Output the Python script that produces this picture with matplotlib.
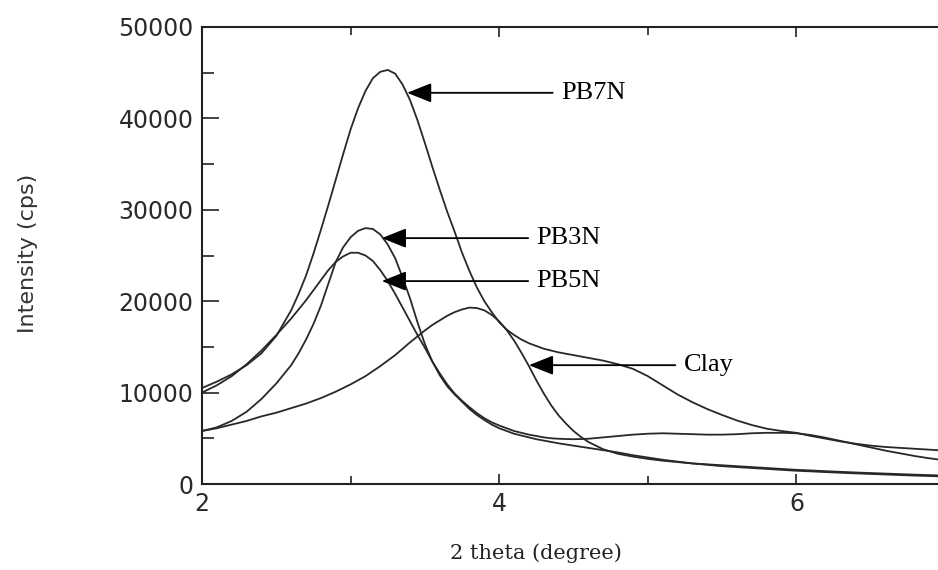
import matplotlib
matplotlib.use("Agg")
import matplotlib.pyplot as plt
from matplotlib.ticker import MultipleLocator

# 2 theta grid (degree), denser around the peaks
theta = [2.0, 2.1, 2.2, 2.3, 2.4, 2.5,
         2.6, 2.65, 2.7, 2.75, 2.8, 2.85, 2.9, 2.95,
         3.0, 3.05, 3.1, 3.15, 3.2, 3.25, 3.3, 3.35, 3.4, 3.45,
         3.5, 3.55, 3.6, 3.65, 3.7, 3.75, 3.8, 3.85, 3.9, 3.95,
         4.0, 4.05, 4.1, 4.15, 4.2, 4.25, 4.3, 4.35, 4.4, 4.45,
         4.5, 4.55, 4.6,
         4.7, 4.8, 4.9, 5.0, 5.1, 5.2, 5.3, 5.4, 5.5, 5.6, 5.7, 5.8, 5.9,
         6.0, 6.1, 6.2, 6.3, 6.4, 6.5, 6.6, 6.7, 6.8, 6.9, 7.0]

# intensity (cps)
pb7n = [10500, 11200, 12000, 13000, 14300, 16200,
        19000, 20800, 22800, 25200, 27800, 30500, 33300, 36100,
        38800, 41100, 43000, 44400, 45100, 45300, 44900, 43700, 42000, 39800,
        37300, 34700, 32200, 29800, 27600, 25300, 23300, 21500, 20000, 18800,
        17700, 16900, 16300, 15800, 15400, 15100, 14800, 14600, 14400, 14250,
        14100, 13950, 13800,
        13500, 13100, 12600, 11800, 10800, 9800, 8950, 8200, 7550, 6950, 6450, 6050, 5800,
        5600, 5250, 4950, 4650, 4400, 4200, 4050, 3950, 3850, 3750, 3650]

pb3n = [5800, 6200, 6900, 7900, 9300, 11000,
        13000, 14300, 15800, 17500, 19500, 21900, 24300, 25900,
        27000, 27700, 28000, 27900, 27300, 26200, 24700, 22600, 20300, 17700,
        15300, 13400, 11900, 10700, 9800, 9000, 8200, 7550, 7000, 6500,
        6100, 5800, 5500, 5300, 5100, 4900, 4750, 4600, 4450, 4320,
        4200, 4070, 3950,
        3700, 3450, 3150, 2900, 2650, 2450, 2250, 2100, 1950, 1850, 1750, 1650, 1550,
        1450, 1380, 1300, 1230, 1160, 1100, 1040, 980, 920, 870, 820]

pb5n = [10000, 10800, 11800, 13100, 14600, 16300,
        18100, 19100, 20100, 21200, 22300, 23400, 24300, 24900,
        25300, 25300, 25000, 24400, 23400, 22200, 20800, 19300, 17800, 16300,
        14900, 13400, 12100, 10900, 9900, 9100, 8400, 7750, 7200, 6750,
        6400, 6100, 5800, 5600, 5400, 5250, 5100, 5000, 4950, 4920,
        4900, 4920, 4950,
        5100, 5250, 5400, 5500, 5550, 5500, 5450, 5400, 5400, 5450, 5550, 5600, 5600,
        5550, 5350, 5050, 4700, 4350, 4000, 3650, 3350, 3050, 2800, 2600]

clay = [5800, 6100, 6500, 6900, 7400, 7800,
        8300, 8550, 8800, 9100, 9400, 9750, 10100, 10500,
        10900, 11350, 11800, 12350, 12900, 13500, 14100, 14800, 15500, 16150,
        16800, 17400, 17900, 18400, 18800, 19100, 19300, 19250, 19000, 18500,
        17800, 16850, 15700, 14350, 12900, 11350, 9900, 8600, 7500, 6600,
        5800, 5150, 4600,
        3800, 3300, 3000, 2750, 2550, 2400, 2250, 2150, 2050, 1950, 1850, 1750, 1650,
        1550, 1480, 1400, 1330, 1260, 1200, 1140, 1080, 1020, 970, 920]

# label name, arrow tip (x, y), arrow tail / text x
labels = ["PB7N", "PB3N", "PB5N", "Clay"]
tips = [(3.38, 42800), (3.21, 26900), (3.21, 22200), (4.20, 13000)]
tails = [4.36, 4.195, 4.195, 5.185]

fig = plt.figure(figsize=(9.38, 5.70), dpi=100)
ax = fig.add_axes([202 / 938, 86 / 570, 743 / 938, 457 / 570])

line_col = "#2b2727"
for series in [pb7n, pb3n, pb5n, clay]:
    ax.plot(theta, series, color=line_col, lw=1.3, solid_joinstyle="round")

ax.set_xlim(2, 7)
ax.set_ylim(0, 50000)
ax.xaxis.set_major_locator(MultipleLocator(2))
ax.xaxis.set_minor_locator(MultipleLocator(1))
ax.yaxis.set_major_locator(MultipleLocator(10000))
ax.yaxis.set_minor_locator(MultipleLocator(5000))

ax.tick_params(axis="both", which="both", direction="in", colors="#222222",
               top=True, right=False, labelsize=17)
ax.tick_params(axis="y", which="major", length=12, width=1.2, pad=6)
ax.tick_params(axis="y", which="minor", length=8.5, width=1.2)
ax.tick_params(axis="x", which="major", length=7, width=1.2, pad=6)
ax.tick_params(axis="x", which="minor", length=5.5, width=1.2)
for lab in ax.get_xticklabels() + ax.get_yticklabels():
    lab.set_color("#2a2a2a")

for side in ["left", "bottom", "top"]:
    ax.spines[side].set_linewidth(1.5)
    ax.spines[side].set_color("#222222")
ax.spines["right"].set_visible(False)

for name, tip, tx in zip(labels, tips, tails):
    ax.annotate("", xy=tip, xytext=(tx, tip[1]),
                arrowprops=dict(arrowstyle="-|>,head_length=1.0,head_width=0.4",
                                color="black", lw=1.3, mutation_scale=15,
                                shrinkA=0, shrinkB=0))
    ax.text(tx + 0.055, tip[1], name, fontsize=19, family="Liberation Serif",
            va="center", ha="left", color="black")

fig.text(28 / 938, 1 - 253 / 570, "Intensity (cps)", rotation=90,
         ha="center", va="center", fontsize=16,
         family=["Liberation Sans Narrow", "DejaVu Sans"], color="#333333")
fig.text(536 / 938, 1 - 553 / 570, "2 theta (degree)", ha="center", va="center",
         fontsize=15, family="DejaVu Serif", color="#222222")

fig.savefig("out.png", dpi=100, facecolor="white")
